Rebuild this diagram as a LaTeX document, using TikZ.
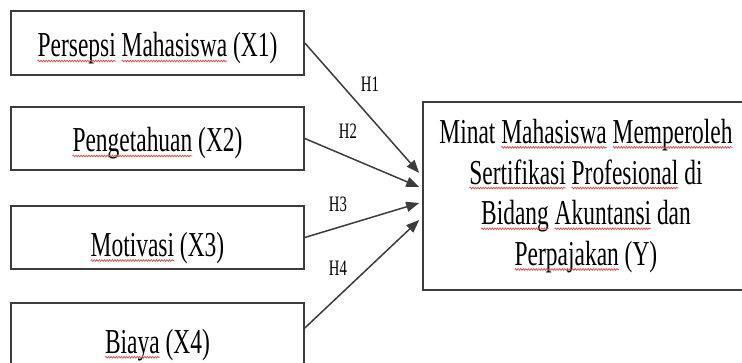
\documentclass[tikz,border=0pt]{standalone}
\usepackage{fontspec}
\setmainfont{Liberation Serif}[FakeStretch=0.67]
\usetikzlibrary{arrows.meta,decorations.pathmorphing,calc}
\definecolor{sqred}{RGB}{210,80,80}
\definecolor{linegray}{RGB}{60,60,60}
\newsavebox\sqbox
\newlength\sqlen
\newcommand\sq[1]{\sbox\sqbox{#1}\setlength\sqlen{\wd\sqbox}\usebox\sqbox\tikz[overlay]\draw[sqred,line width=0.7pt,decorate,decoration={snake,amplitude=0.9pt,segment length=2.6pt}] (-\sqlen,-4pt) -- (0pt,-4pt);}
\tikzset{
  xbox/.style={draw=linegray,line width=1.6pt,minimum width=293pt,minimum height=63.5pt,inner sep=0pt,text depth=0pt,font=\fontsize{35}{40.7}\selectfont},
  ybox/.style={draw=linegray,line width=1.6pt,minimum width=360pt,minimum height=188pt,inner sep=0pt},
  ytext/.style={inner sep=0pt,align=center,font=\fontsize{35}{40.7}\selectfont},
  hyp/.style={draw=linegray,line width=1.5pt,-{Triangle[length=13pt,width=10pt]}},
  hlabel/.style={font=\fontsize{22}{26}\selectfont,inner sep=0pt}
}
\begin{document}
\begin{tikzpicture}[x=1pt,y=1pt]
\fill[white] (0,0) rectangle (742,362);
\node[xbox,text height=28pt] (X1) at (157.5,319) {\sq{Persepsi} \sq{Mahasiswa} (X1)};
\node[xbox,text height=27pt] (X2) at (157.5,223.5) {\sq{Pengetahuan} (X2)};
\node[xbox,text height=38pt] (X3) at (157.5,124.5) {\sq{Motivasi} (X3)};
\node[xbox,text height=37pt] (X4) at (157.5,27.25) {\sq{Biaya} (X4)};
\node[ybox] (Y) at (603,166) {};
\node[ytext] (Yt) at (586,166) {Minat \sq{Mahasiswa} \sq{Memperoleh}\\\sq{Sertifikasi} \sq{Profesional} di\\\sq{Bidang} \sq{Akuntansi} dan\\\sq{Perpajakan} (Y)};
\coordinate (t1) at ($(Y.west)+(-3,23)$);
\coordinate (t2) at ($(Y.west)+(-3,9)$);
\coordinate (t3) at ($(Y.west)+(-3,-7)$);
\coordinate (t4) at ($(Y.west)+(-3,-24)$);
\coordinate (s4) at ($(X4.east)+(0,6.75)$);
\draw[hyp] (X1.east) -- (t1);
\draw[hyp] (X2.east) -- (t2);
\draw[hyp] (X3.east) -- (t3);
\draw[hyp] (s4) -- (t4);
\node[hlabel] (h1) at (370,277.5) {H1};
\node[hlabel] (h2) at (348,231) {H2};
\node[hlabel] (h3) at (338,158) {H3};
\node[hlabel] (h4) at (338,94) {H4};
\pgfresetboundingbox
\useasboundingbox (0,0) rectangle (742,362);
\end{tikzpicture}
\end{document}
